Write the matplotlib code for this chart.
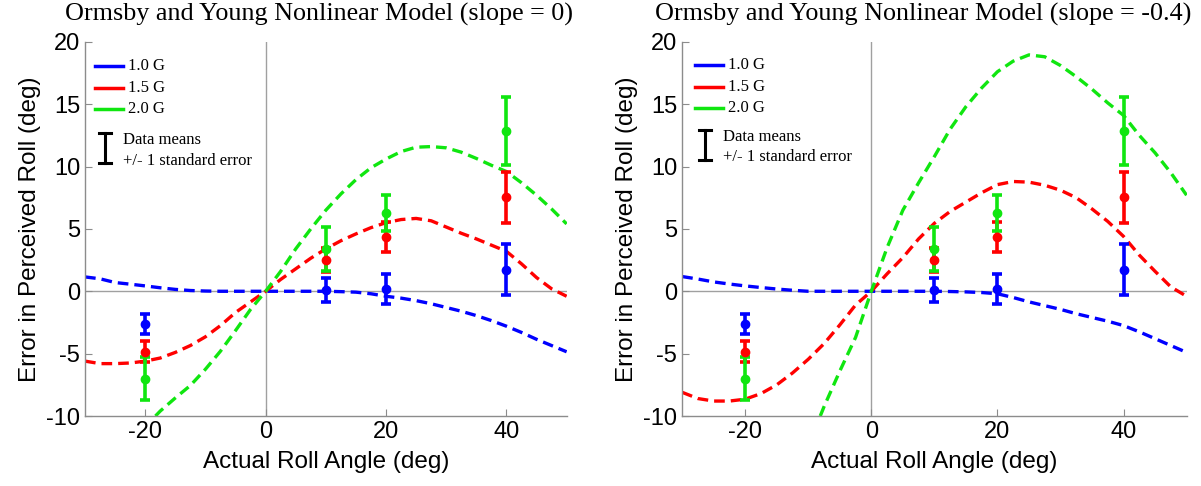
import numpy as np
import matplotlib.pyplot as plt
from matplotlib.lines import Line2D

plt.rcParams['axes.unicode_minus'] = False

# model curves, slope = 0
x_l = [-30, -27.5, -25, -22.5, -20, -17.5, -15, -12.5, -10, -7.5, -5, -2.5, 0,
       2.5, 5, 7.5, 10, 12.5, 15, 17.5, 20, 22.5, 25, 27.5, 30, 32.5, 35, 37.5,
       40, 42.5, 45, 47.5, 50]
blue_l = [1.15, 1.0, 0.7, 0.57, 0.43, 0.28, 0.15, 0.06, 0.02, 0, 0, 0, 0,
          0, 0, 0, 0, -0.03, -0.07, -0.2, -0.4, -0.55, -0.75, -1.0, -1.3, -1.6,
          -1.95, -2.35, -2.8, -3.3, -3.85, -4.35, -4.85]
red_l = [-5.6, -5.8, -5.8, -5.75, -5.6, -5.35, -4.9, -4.35, -3.65, -2.75, -1.7,
         -0.85, 0, 0.95, 1.8, 2.65, 3.4, 4.05, 4.6, 5.1, 5.5, 5.75, 5.84, 5.65,
         5.15, 4.65, 4.2, 3.7, 3.2, 2.2, 1.1, 0.2, -0.4]
xg_l = [-18.3, -17.5, -15, -12.5, -10, -7.5, -5, -2.5, 0, 2.5, 5, 7.5, 10, 12.5,
        15, 17.5, 20, 22.5, 25, 27.5, 30, 32.5, 35, 37.5, 40, 42.5, 45, 47.5, 50]
green_l = [-10, -9.6, -8.55, -7.55, -6.25, -4.8, -3.15, -1.45, 0, 1.6, 3.4, 5.0,
           6.5, 7.8, 8.95, 9.9, 10.6, 11.2, 11.55, 11.6, 11.5, 11.15, 10.65,
           10.1, 9.6, 8.7, 7.7, 6.6, 5.4]

# model curves, slope = -0.4
x_r = x_l
blue_r = [1.18, 0.98, 0.75, 0.58, 0.43, 0.3, 0.18, 0.08, 0, 0, 0, 0, 0,
          0, 0, 0, 0, -0.02, -0.05, -0.1, -0.2, -0.5, -0.85, -1.15, -1.45, -1.8,
          -2.1, -2.4, -2.75, -3.25, -3.8, -4.35, -4.9]
red_r = [-8.1, -8.6, -8.8, -8.8, -8.65, -8.2, -7.5, -6.55, -5.45, -4.2, -2.7,
         -1.1, 0, 1.4, 2.7, 4.2, 5.45, 6.4, 7.15, 7.9, 8.55, 8.8, 8.75, 8.5,
         8.1, 7.5, 6.6, 5.6, 4.4, 2.9, 1.6, 0.35, -0.4]
xg_r = [-8.1, -7.5, -5, -2.5, 0, 2.5, 5, 7.5, 10, 12.5, 15, 17.5, 20, 22.5, 25,
        27.5, 30, 32.5, 35, 37.5, 40, 42.5, 45, 47.5, 50]
green_r = [-10, -9.25, -6.4, -3.7, 0, 3.5, 6.5, 8.7, 10.8, 13.0, 14.8, 16.3,
           17.6, 18.45, 18.95, 18.8, 18.1, 17.2, 16.2, 15.1, 14.1, 12.5, 11.1,
           9.5, 7.7]

# data means +/- 1 standard error
x_data = [-20, 10, 20, 40]
blue_m = [-2.6, 0.1, 0.15, 1.72]
blue_e = [0.8, 0.95, 1.2, 2.05]
red_m = [-4.85, 2.5, 4.35, 7.55]
red_e = [0.85, 0.95, 1.2, 2.05]
green_m = [-7.0, 3.4, 6.3, 12.85]
green_e = [1.7, 1.75, 1.45, 2.7]

labels = ["1.0 G", "1.5 G", "2.0 G"]
cols = ["#0000ff", "#ff0000", "#10e610"]
titles = ["Ormsby and Young Nonlinear Model (slope = 0)",
          "Ormsby and Young Nonlinear Model (slope = -0.4)"]

fig = plt.figure(figsize=(12.01, 4.86), dpi=100)
ax1 = fig.add_axes([0.0708, 0.144, 0.401, 0.770])
ax2 = fig.add_axes([0.568, 0.144, 0.420, 0.770])

curves = [
    [(x_l, blue_l), (x_l, red_l), (xg_l, green_l)],
    [(x_r, blue_r), (x_r, red_r), (xg_r, green_r)],
]
means = [blue_m, red_m, green_m]
errs = [blue_e, red_e, green_e]

for i, ax in enumerate([ax1, ax2]):
    ax.axhline(0, color="#a0a0a0", lw=1, zorder=1)
    ax.axvline(0, color="#a0a0a0", lw=1, zorder=1)
    for (xx, yy), c in zip(curves[i], cols):
        ax.plot(xx, yy, color=c, lw=2.4, dashes=(3.2, 1.8), zorder=2)
    for m, e, c in zip(means, errs, cols):
        ax.errorbar(x_data, m, yerr=e, fmt="o", color=c, ms=6, elinewidth=2.6,
                    capsize=3.5, capthick=2.6, zorder=3)

    ax.set_xlim(-30, 50)
    ax.set_ylim(-10, 20)
    ax.set_xticks([-20, 0, 20, 40])
    ax.set_yticks([-10, -5, 0, 5, 10, 15, 20])
    for s in ["top", "right"]:
        ax.spines[s].set_visible(False)
    for s in ["left", "bottom"]:
        ax.spines[s].set_color("#8c8c8c")
        ax.spines[s].set_linewidth(1)
    ax.tick_params(direction="in", length=5, color="#8c8c8c", labelsize=17,
                   labelcolor="black")
    for t in ax.get_xticklabels() + ax.get_yticklabels():
        t.set_family("Liberation Sans")
    ax.set_xlabel("Actual Roll Angle (deg)", fontsize=17.5,
                  family="Liberation Sans", labelpad=6)
    ax.set_ylabel("Error in Perceived Roll (deg)", fontsize=17.5,
                  family="Liberation Sans", labelpad=4)
    ax.set_title(titles[i], fontsize=18.8, family="Liberation Serif", pad=15,
                 x=[0.4865, 0.478][i])

    # legend, drawn by hand
    lx0, lx1, tx = [(0.021, 0.079, 0.089), (0.026, 0.081, 0.091)][i]
    rows = [(0.936, 0.877, 0.821), (0.938, 0.879, 0.823)][i]
    for y, c, lab in zip(rows, cols, labels):
        ax.add_line(Line2D([lx0, lx1], [y, y], color=c, lw=2.5,
                           transform=ax.transAxes))
        ax.text(tx, y, lab, transform=ax.transAxes, fontsize=12,
                family="Liberation Serif", va="center")
    ex, ey0, ey1, etx, ety0, ety1 = [
        (0.041, 0.676, 0.757, 0.079, 0.738, 0.682),
        (0.046, 0.684, 0.764, 0.081, 0.745, 0.692)][i]
    ax.add_line(Line2D([ex, ex], [ey0, ey1], color="black", lw=2.2,
                       transform=ax.transAxes))
    for yy in (ey0, ey1):
        ax.add_line(Line2D([ex - 0.012, ex + 0.012], [yy, yy], color="black",
                           lw=2.2, transform=ax.transAxes))
    ax.text(etx, ety0, "Data means", transform=ax.transAxes, fontsize=12,
            family="Liberation Serif", va="center")
    ax.text(etx, ety1, "+/- 1 standard error", transform=ax.transAxes,
            fontsize=12, family="Liberation Serif", va="center")

fig.savefig("out.png", dpi=100)
